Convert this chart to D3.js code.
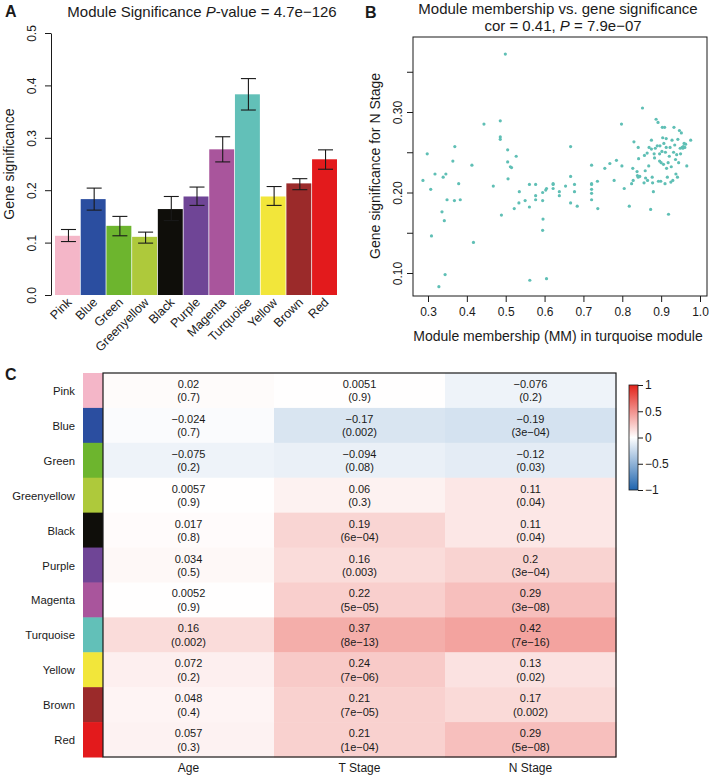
<!DOCTYPE html>
<html><head><meta charset="utf-8">
<script src="https://cdn.jsdelivr.net/npm/d3@7/dist/d3.min.js"></script>
<style>
body{margin:0;background:#fff;}
text{font-family:"Liberation Sans",Arial,Helvetica,sans-serif;fill:#1a1a1a;}
</style></head>
<body>
<svg id="chart" width="709" height="776"></svg>
<script>
// ---------- DATA ----------
const modules = ["Pink","Blue","Green","Greenyellow","Black","Purple","Magenta","Turquoise","Yellow","Brown","Red"];
const moduleColors = ["#f4b6c8","#2b4ea0","#6db52e","#aec93b","#0f0e0a","#6f4596","#a9559c","#62c0b8","#f2e63a","#9b2a2a","#e31a1c"];
const gsMean = [0.113,0.183,0.132,0.111,0.164,0.188,0.278,0.383,0.188,0.213,0.259];
const gsLow  = [0.102,0.162,0.113,0.099,0.142,0.171,0.254,0.353,0.171,0.201,0.240];
const gsHigh = [0.125,0.204,0.150,0.120,0.188,0.206,0.302,0.413,0.207,0.222,0.277];
const barTicks = [0,0.1,0.2,0.3,0.4,0.5];

const mmX = [0.287,0.298,0.307,0.309,0.318,0.328,0.336,0.339,0.342,0.344,0.346,0.349,0.364,0.369,0.368,0.379,0.383,0.413,0.417,0.444,0.468,0.486,0.486,0.486,0.489,0.499,0.505,0.505,0.506,0.512,0.515,0.522,0.527,0.535,0.534,0.550,0.561,0.561,0.562,0.577,0.577,0.577,0.595,0.595,0.596,0.595,0.603,0.605,0.605,0.622,0.622,0.622,0.638,0.638,0.654,0.667,0.667,0.667,0.677,0.677,0.684,0.721,0.721,0.721,0.721,0.721,0.721,0.736,0.737,0.755,0.768,0.779,0.785,0.798,0.799,0.805,0.818,0.824,0.827,0.828,0.830,0.838,0.839,0.841,0.841,0.842,0.845,0.852,0.856,0.857,0.859,0.860,0.864,0.865,0.868,0.869,0.873,0.875,0.875,0.877,0.878,0.880,0.882,0.883,0.885,0.887,0.890,0.892,0.893,0.896,0.896,0.897,0.899,0.900,0.902,0.903,0.904,0.906,0.907,0.909,0.910,0.911,0.913,0.913,0.914,0.916,0.918,0.919,0.921,0.923,0.925,0.926,0.928,0.930,0.932,0.933,0.935,0.937,0.938,0.940,0.942,0.943,0.945,0.947,0.949,0.950,0.952,0.954,0.956,0.957,0.959,0.961,0.963,0.966,0.976];
const gsY = [0.215,0.248,0.204,0.146,0.223,0.083,0.176,0.219,0.165,0.098,0.223,0.191,0.239,0.257,0.190,0.211,0.191,0.234,0.138,0.285,0.208,0.289,0.269,0.266,0.172,0.372,0.253,0.238,0.217,0.232,0.231,0.180,0.245,0.201,0.187,0.190,0.210,0.182,0.091,0.210,0.196,0.191,0.200,0.190,0.167,0.153,0.203,0.205,0.093,0.211,0.210,0.205,0.201,0.196,0.208,0.257,0.220,0.187,0.210,0.201,0.183,0.234,0.211,0.210,0.204,0.199,0.191,0.214,0.180,0.230,0.236,0.215,0.240,0.285,0.233,0.205,0.183,0.211,0.230,0.215,0.263,0.226,0.221,0.256,0.219,0.242,0.220,0.305,0.212,0.246,0.227,0.218,0.249,0.215,0.233,0.256,0.179,0.265,0.254,0.219,0.212,0.201,0.248,0.243,0.255,0.291,0.258,0.287,0.214,0.248,0.239,0.258,0.214,0.237,0.251,0.281,0.268,0.235,0.261,0.281,0.211,0.250,0.256,0.267,0.230,0.219,0.237,0.173,0.245,0.256,0.213,0.232,0.265,0.215,0.250,0.281,0.259,0.241,0.223,0.247,0.219,0.266,0.237,0.277,0.255,0.248,0.274,0.256,0.255,0.257,0.261,0.256,0.260,0.233,0.265];
const scatterXTicks = [0.3,0.4,0.5,0.6,0.7,0.8,0.9,1.0];
const scatterYTicks = [0.10,0.15,0.20,0.25,0.30,0.35];
const scatterYLabels = [0.10,0.20,0.30];

const traits = ["Age","T Stage","N Stage"];
const corAge = [0.02,-0.024,-0.075,0.0057,0.017,0.034,0.0052,0.16,0.072,0.048,0.057];
const pAge   = ["0.7","0.7","0.2","0.9","0.8","0.5","0.9","0.002","0.2","0.4","0.3"];
const corT   = [0.0051,-0.17,-0.094,0.06,0.19,0.16,0.22,0.37,0.24,0.21,0.21];
const pT     = ["0.9","0.002","0.08","0.3","6e-04","0.003","5e-05","8e-13","7e-06","7e-05","1e-04"];
const corN   = [-0.076,-0.19,-0.12,0.11,0.11,0.2,0.29,0.42,0.13,0.17,0.29];
const pN     = ["0.2","3e-04","0.03","0.04","0.04","3e-04","3e-08","7e-16","0.02","0.002","5e-08"];
const legendTicks = [1,0.5,0,-0.5,-1];

// ---------- DRAW ----------
const svg = d3.select("#chart");
const minus = s => String(s).replace(/-/g,"\u2212");

// Panel labels
svg.append("text").attr("x",5).attr("y",17).attr("font-size",16).attr("font-weight","bold").text("A");
svg.append("text").attr("x",365).attr("y",18).attr("font-size",16).attr("font-weight","bold").text("B");
svg.append("text").attr("x",5).attr("y",380).attr("font-size",16).attr("font-weight","bold").text("C");

// ===== Panel A =====
const gA = svg.append("g");
const xA = d3.scaleBand().domain(modules).range([55,337]).paddingInner(0.03).paddingOuter(0);
const yA = d3.scaleLinear().domain([0,0.5]).range([295,33]);
const tA = gA.append("text").attr("x",202).attr("y",17).attr("text-anchor","middle").attr("font-size",15);
tA.append("tspan").text("Module Significance ");
tA.append("tspan").attr("font-style","italic").text("P");
tA.append("tspan").text("-value = 4.7e\u2212126");

gA.selectAll("rect.bar").data(modules).join("rect")
  .attr("x",d=>xA(d)).attr("width",xA.bandwidth())
  .attr("y",(d,i)=>yA(gsMean[i])).attr("height",(d,i)=>yA(0)-yA(gsMean[i]))
  .attr("fill",(d,i)=>moduleColors[i]);
const eb = gA.append("g").attr("stroke","#1a1a1a").attr("stroke-width",1.1).attr("fill","none");
modules.forEach((m,i)=>{
  const cx = xA(m)+xA.bandwidth()/2+1, w=7.5;
  eb.append("line").attr("x1",cx).attr("x2",cx).attr("y1",yA(gsLow[i])).attr("y2",yA(gsHigh[i]));
  eb.append("line").attr("x1",cx-w).attr("x2",cx+w).attr("y1",yA(gsLow[i])).attr("y2",yA(gsLow[i]));
  eb.append("line").attr("x1",cx-w).attr("x2",cx+w).attr("y1",yA(gsHigh[i])).attr("y2",yA(gsHigh[i]));
});
const axA = gA.append("g").attr("transform","translate(51,0)")
  .call(d3.axisLeft(yA).tickValues(barTicks).tickFormat(d3.format(".1f")).tickSize(6).tickSizeOuter(0));
axA.select(".domain").attr("stroke","#1a1a1a");
axA.selectAll(".tick line").attr("stroke","#1a1a1a");
axA.selectAll(".tick text").attr("font-size",12).attr("font-family",null).attr("fill","#1a1a1a")
  .attr("x",0).attr("dy",0).attr("text-anchor","middle").attr("transform","translate(-14,0) rotate(-90)").attr("y",-1);
gA.append("text").attr("transform","translate(14,164) rotate(-90)").attr("text-anchor","middle").attr("font-size",14).text("Gene significance");
gA.selectAll("text.xl").data(modules).join("text")
  .attr("font-size",12.5).attr("text-anchor","end")
  .attr("transform",d=>`translate(${xA(d)+xA.bandwidth()/2+5},${303}) rotate(-45)`)
  .text(d=>d);

// ===== Panel B =====
const gB = svg.append("g");
const bx0=413,bx1=707,by0=37,by1=296;
const xB = d3.scaleLinear().domain([0.3,1.0]).range([428,700]);
const yB = d3.scaleLinear().domain([0.10,0.30]).range([273,112]);
gB.append("text").attr("x",558).attr("y",14).attr("text-anchor","middle").attr("font-size",15).text("Module membership vs. gene significance");
const tB = gB.append("text").attr("x",563).attr("y",31).attr("text-anchor","middle").attr("font-size",15);
tB.append("tspan").text("cor = 0.41, ");
tB.append("tspan").attr("font-style","italic").text("P");
tB.append("tspan").text(" = 7.9e\u221207");
gB.selectAll("circle").data(mmX).join("circle")
  .attr("cx",d=>xB(d)).attr("cy",(d,i)=>yB(gsY[i])).attr("r",1.6).attr("fill","#5fbfb5");
gB.append("rect").attr("x",bx0).attr("y",by0).attr("width",bx1-bx0).attr("height",by1-by0)
  .attr("fill","none").attr("stroke","#1a1a1a").attr("stroke-width",1);
const axBx = gB.append("g").attr("transform",`translate(0,${by1})`)
  .call(d3.axisBottom(xB).tickValues(scatterXTicks).tickFormat(d3.format(".1f")).tickSize(6).tickSizeOuter(0));
axBx.select(".domain").remove();
axBx.selectAll(".tick line").attr("stroke","#1a1a1a");
axBx.selectAll(".tick text").attr("font-size",12).attr("font-family",null).attr("fill","#1a1a1a").attr("y",11).attr("dy","0.71em");
const axBy = gB.append("g").attr("transform",`translate(${bx0},0)`)
  .call(d3.axisLeft(yB).tickValues(scatterYTicks).tickFormat(d=>scatterYLabels.some(v=>Math.abs(v-d)<1e-9)?d3.format(".2f")(d):"").tickSize(6).tickSizeOuter(0));
axBy.select(".domain").remove();
axBy.selectAll(".tick line").attr("stroke","#1a1a1a");
axBy.selectAll(".tick text").attr("font-size",12).attr("font-family",null).attr("fill","#1a1a1a")
  .attr("x",0).attr("dy",0).attr("y",-1).attr("text-anchor","middle").attr("transform","translate(-10,0) rotate(-90)");
gB.append("text").attr("transform","translate(380,166) rotate(-90)").attr("text-anchor","middle").attr("font-size",14).text("Gene significance for N Stage");
gB.append("text").attr("x",558).attr("y",341).attr("text-anchor","middle").attr("font-size",14).text("Module membership (MM) in turquoise module");

// ===== Panel C =====
const gC = svg.append("g");
const xC = d3.scaleBand().domain(traits).range([103,616]);
const yC = d3.scaleBand().domain(modules).range([373,757]);
const color = d3.scaleLinear().domain([-1,0,1]).range(["#1e64ae","#ffffff","#e2231a"]);
const cells = [];
modules.forEach((m,i)=>{
  cells.push({m,t:"Age",c:corAge[i],p:pAge[i]});
  cells.push({m,t:"T Stage",c:corT[i],p:pT[i]});
  cells.push({m,t:"N Stage",c:corN[i],p:pN[i]});
});
gC.selectAll("rect.cell").data(cells).join("rect")
  .attr("x",d=>xC(d.t)).attr("y",d=>yC(d.m)).attr("width",xC.bandwidth()+0.5).attr("height",yC.bandwidth()+0.5)
  .attr("fill",d=>color(d.c));
gC.selectAll("rect.strip").data(modules).join("rect")
  .attr("x",83).attr("width",20).attr("y",d=>yC(d)).attr("height",yC.bandwidth()+0.5)
  .attr("fill",(d,i)=>moduleColors[i]);
gC.append("rect").attr("x",103).attr("y",373).attr("width",513).attr("height",384)
  .attr("fill","none").attr("stroke","#1a1a1a").attr("stroke-width",1.2);
const cellText = gC.selectAll("text.ct").data(cells).join("text")
  .attr("text-anchor","middle").attr("font-size",11);
cellText.append("tspan").attr("x",d=>xC(d.t)+xC.bandwidth()/2).attr("y",d=>yC(d.m)+yC.bandwidth()/2-2.5).text(d=>minus(d.c));
cellText.append("tspan").attr("x",d=>xC(d.t)+xC.bandwidth()/2).attr("y",d=>yC(d.m)+yC.bandwidth()/2+11).text(d=>"("+minus(d.p)+")");
gC.selectAll("text.rl").data(modules).join("text")
  .attr("x",75).attr("y",d=>yC(d)+yC.bandwidth()/2+4.5).attr("text-anchor","end").attr("font-size",11.3).text(d=>d);
gC.selectAll("text.cl").data(traits).join("text")
  .attr("x",d=>xC(d)+xC.bandwidth()/2).attr("y",772).attr("text-anchor","middle").attr("font-size",12).text(d=>d);

// legend
const defs = svg.append("defs");
const grad = defs.append("linearGradient").attr("id","cbar").attr("x1",0).attr("x2",0).attr("y1",1).attr("y2",0);
[-1,-0.5,0,0.5,1].forEach(v=>grad.append("stop").attr("offset",(v+1)/2).attr("stop-color",color(v)));
const yL = d3.scaleLinear().domain([-1,1]).range([490,385]);
gC.append("rect").attr("x",629).attr("y",385).attr("width",9).attr("height",105).attr("fill","url(#cbar)").attr("stroke","#1a1a1a").attr("stroke-width",0.8);
const axL = gC.append("g").attr("transform","translate(638,0)")
  .call(d3.axisRight(yL).tickValues(legendTicks).tickFormat(d=>minus(d)).tickSize(5).tickSizeOuter(0));
axL.select(".domain").remove();
axL.selectAll(".tick line").attr("stroke","#1a1a1a");
axL.selectAll(".tick text").attr("font-size",12).attr("font-family",null).attr("fill","#1a1a1a").attr("x",7);
</script>
</body></html>
